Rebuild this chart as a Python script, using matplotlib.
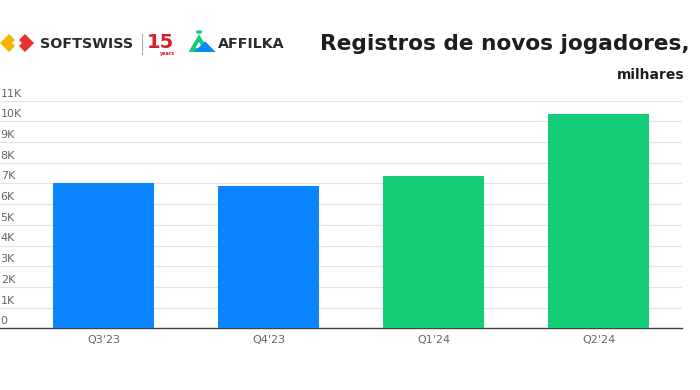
import numpy as np
import matplotlib
matplotlib.use("Agg")
import matplotlib.pyplot as plt
from matplotlib.patches import Polygon, Circle
from matplotlib.transforms import blended_transform_factory

# data
quarters = ["Q3'23", "Q4'23", "Q1'24", "Q2'24"]
registrations = [7.0, 6.9, 7.35, 10.35]  # thousands
bar_colors = ["#0a84ff", "#0a84ff", "#13cd76", "#13cd76"]
y_ticks = list(range(0, 12))
y_labels = ["0"] + [f"{v}K" for v in range(1, 12)]

W, H = 700, 390
fig = plt.figure(figsize=(W / 100, H / 100), dpi=100)
plt.rcParams['font.family'] = ['DejaVu Sans']

def fx(px):
    return px / W

def fy(py):
    return 1 - py / H

ax = fig.add_axes([0, fy(328.3), fx(682), fy(100.7) - fy(328.3)])
x = np.arange(len(quarters))
ax.bar(x, registrations, width=0.61, color=bar_colors, zorder=3)
ax.set_xlim(-0.627, 3.506)
ax.set_ylim(0, 11)

for v in y_ticks[1:]:
    ax.axhline(v, color="#e4e4e4", lw=0.9, zorder=1)
for s in ["top", "right", "left"]:
    ax.spines[s].set_visible(False)
ax.spines["bottom"].set_color("#444444")
ax.spines["bottom"].set_linewidth(1.0)
ax.set_yticks([])
ax.set_xticks(x)
ax.set_xticklabels(quarters, fontsize=8, color="#666666")
ax.tick_params(axis="x", length=0, pad=5)

tr = blended_transform_factory(ax.transAxes, ax.transData)
for v, lab in zip(y_ticks, y_labels):
    ax.text(0.001, v + 0.1, lab, transform=tr, ha="left", va="bottom",
            fontsize=8, color="#666666")

# title
fig.text(fx(690), fy(44), "Registros de novos jogadores,", ha="right", va="center",
         fontsize=15.6, fontweight="bold", color="#1e1e1e")
fig.text(fx(684), fy(75), "milhares", ha="right", va="center",
         fontsize=10, fontweight="bold", color="#1e1e1e")

# logos
fig.patches.append(Polygon([[fx(0), fy(43)], [fx(9), fy(34)], [fx(18), fy(43)], [fx(9), fy(52)]],
                           closed=True, transform=fig.transFigure, fc="#f5b400", ec="none"))
fig.patches.append(Polygon([[fx(16), fy(43)], [fx(25), fy(34)], [fx(34), fy(43)], [fx(25), fy(52)]],
                           closed=True, transform=fig.transFigure, fc="#e8312f", ec="none"))
fig.patches.append(Polygon([[fx(12), fy(43)], [fx(17), fy(38)], [fx(22), fy(43)], [fx(17), fy(48)]],
                           closed=True, transform=fig.transFigure, fc="white", ec="none"))
fig.text(fx(40), fy(44), "SOFTSWISS", ha="left", va="center", fontsize=10.3,
         fontweight="bold", color="#2a2a2a")
fig.add_artist(plt.Line2D([fx(142), fx(142)], [fy(34), fy(54)], color="#aaaaaa", lw=0.8))
fig.text(fx(147), fy(42), "15", ha="left", va="center", fontsize=14,
         fontweight="bold", color="#d81f26")
fig.text(fx(160), fy(53), "years", ha="left", va="center", fontsize=3.5,
         fontweight="bold", color="#d81f26")
fig.patches.append(Polygon([[fx(192), fy(50)], [fx(199), fy(38)], [fx(206), fy(50)]],
                           closed=True, transform=fig.transFigure, fc="none", ec="#13cd76", lw=2.8))
fig.patches.append(Circle((fx(199), fy(32)), 0.0045, transform=fig.transFigure,
                          fc="#13cd76", ec="none"))
fig.patches.append(Polygon([[fx(199), fy(50)], [fx(205), fy(44)], [fx(211), fy(50)]],
                           closed=True, transform=fig.transFigure, fc="none", ec="#0a84ff", lw=2.8))
fig.text(fx(218), fy(44), "AFFILKA", ha="left", va="center", fontsize=10.3,
         fontweight="bold", color="#2a2a2a")

fig.savefig("out.png", dpi=100)
